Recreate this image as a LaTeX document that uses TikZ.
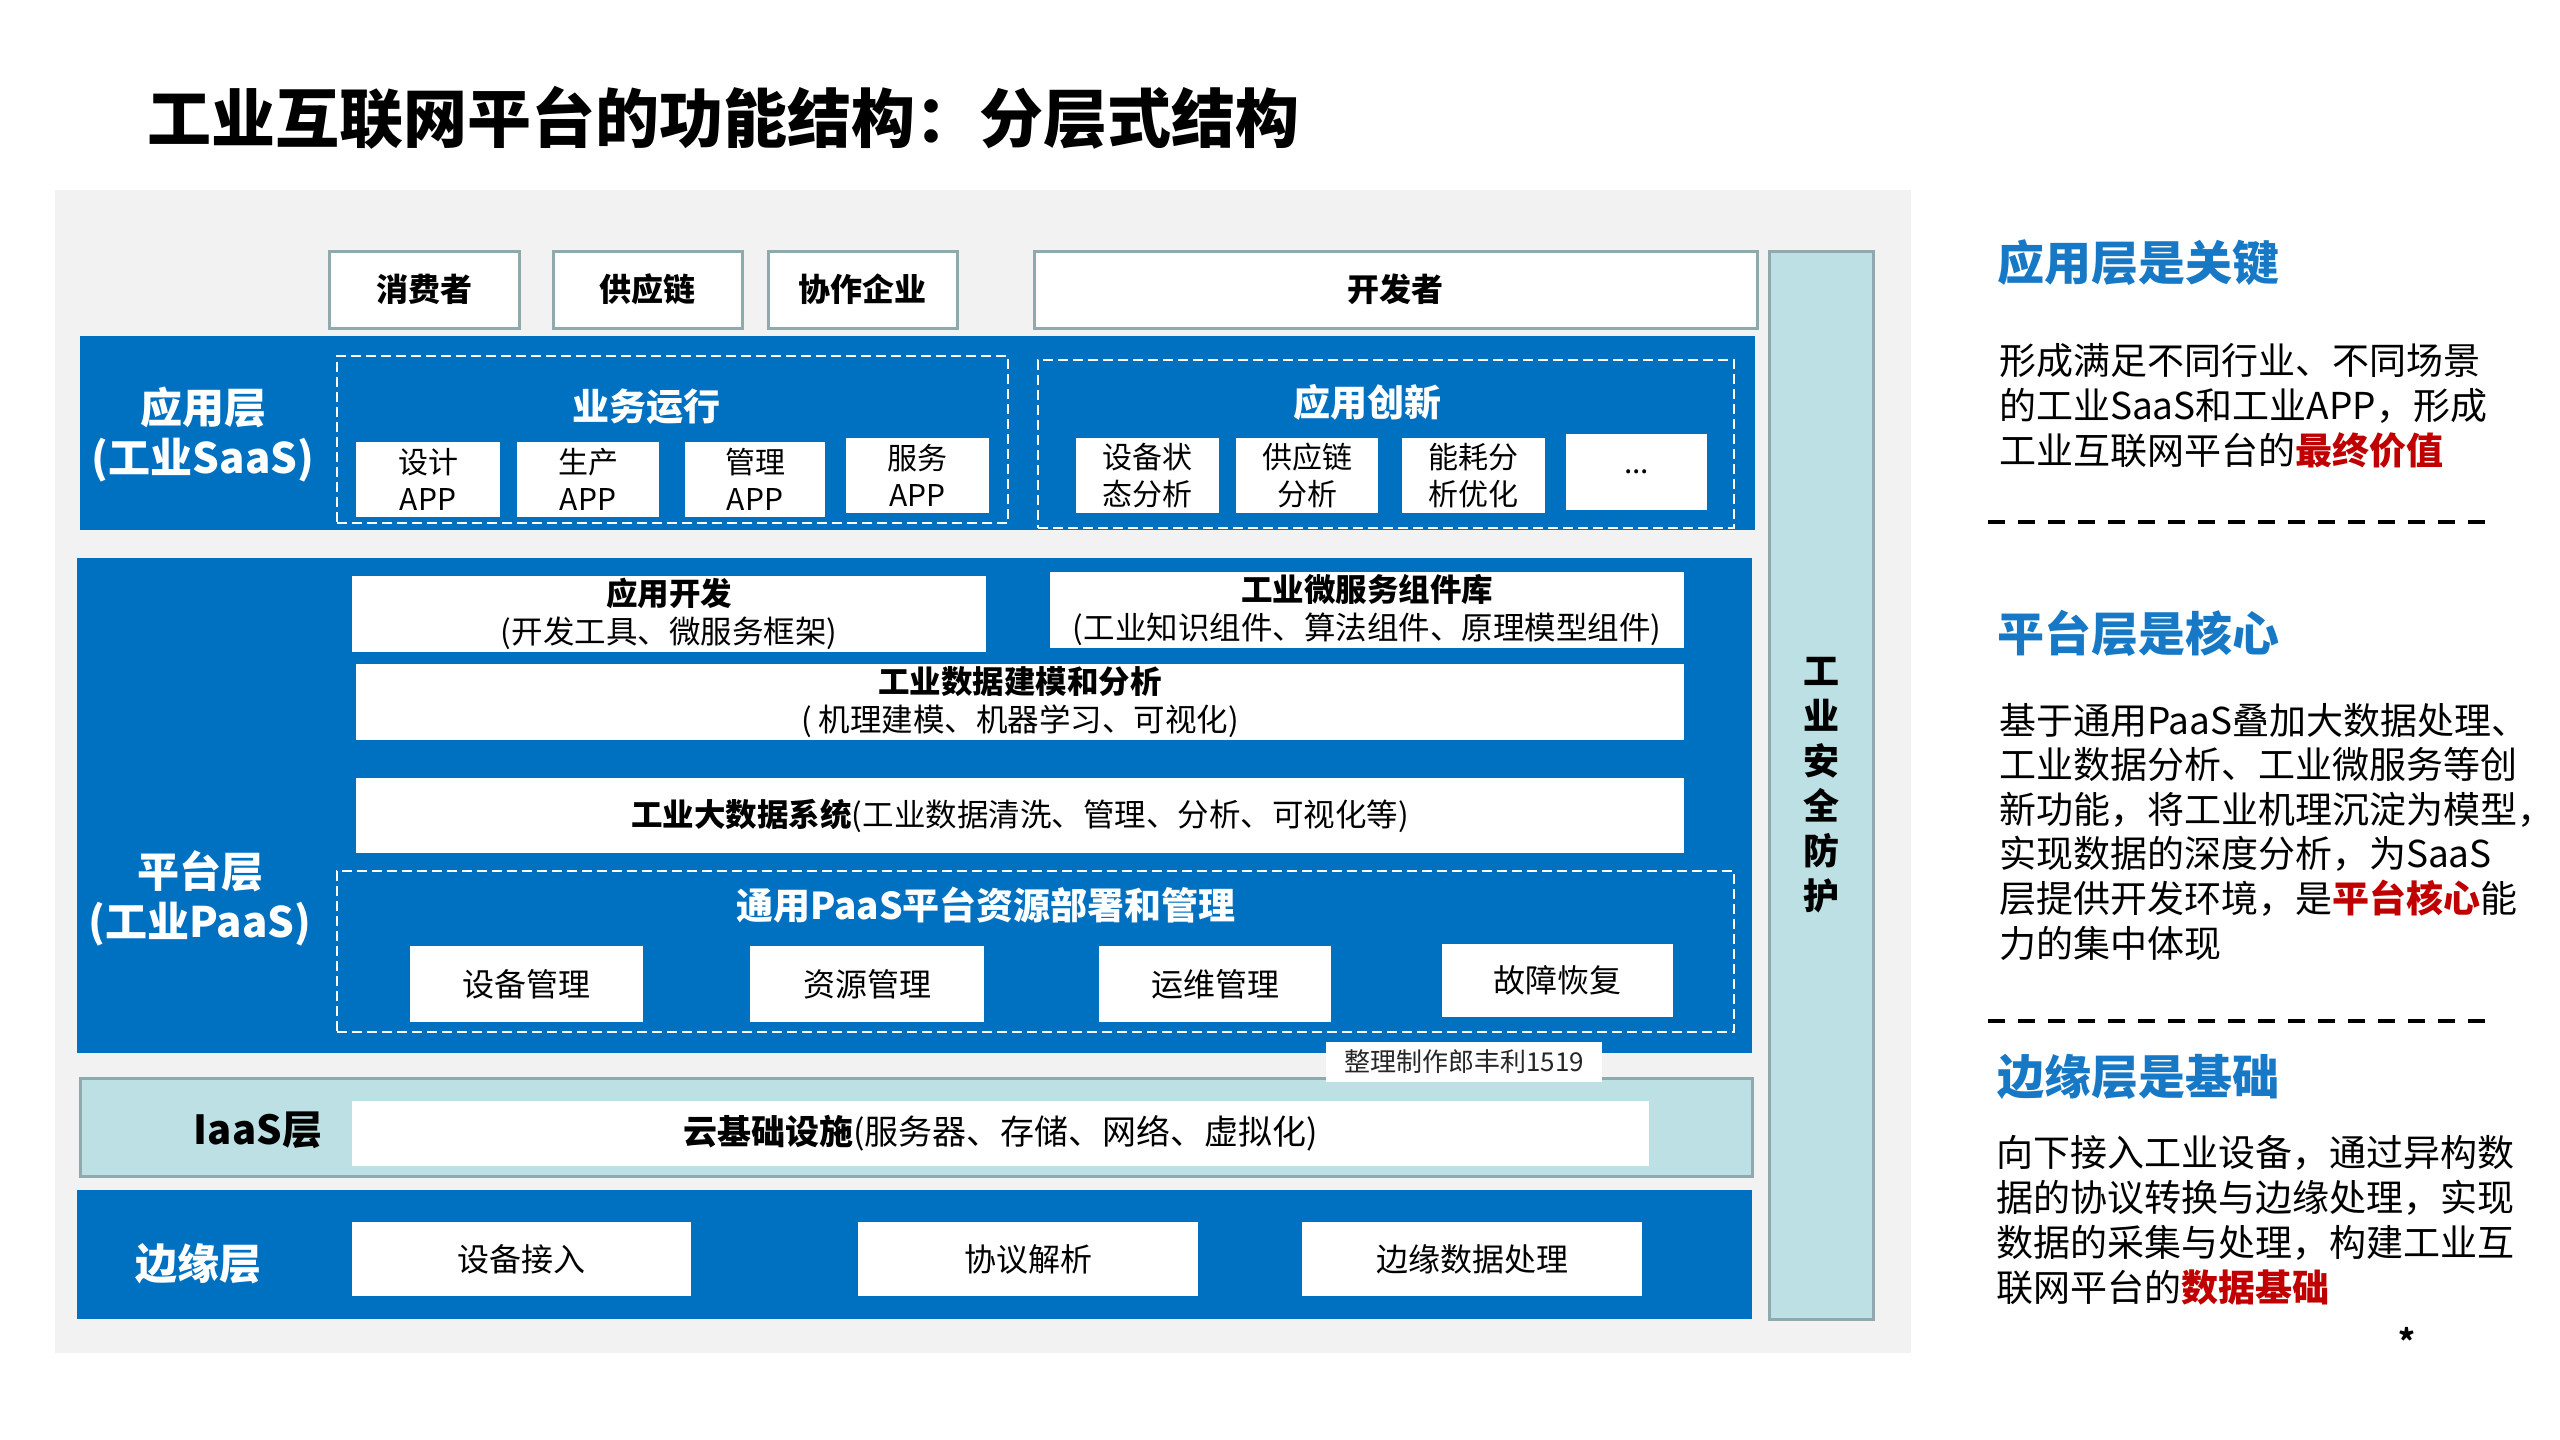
\documentclass[tikz,border=0pt]{standalone}
\usepackage{fontspec}
\setmainfont{Noto Sans CJK SC}
\definecolor{myblue}{HTML}{0070C0}
\definecolor{hblue}{HTML}{1779C6}
\definecolor{lteal}{HTML}{BCE0E3}
\definecolor{bgray}{HTML}{8FA9AD}
\definecolor{panelgray}{HTML}{F2F2F2}
\definecolor{myred}{HTML}{C00000}
\newcommand\fsz[2]{\fontsize{#1}{#2}\selectfont}
\begin{document}
\begin{tikzpicture}[x=1pt,y=-1pt,
  every node/.style={inner sep=0pt, outer sep=0pt},
  sz/.style 2 args={minimum width=#1pt, minimum height=#2pt},
  topbox/.style={draw=bgray, line width=3pt, fill=white, font=\fsz{32}{38}\bfseries},
  band/.style={fill=myblue},
  wbox/.style={fill=white, align=center, font=\fsz{30}{37}},
  mbox/.style={fill=white, align=center, font=\fsz{31.5}{38}},
  dbox/.style={draw=white, line width=2.5pt, dash pattern=on 10pt off 5pt},
  lbl/.style={text=white, font=\fsz{42}{50}\bfseries, align=center},
  ttl/.style={text=white, font=\fsz{37}{44}\bfseries},
  head/.style={text=hblue, font=\fsz{47}{52}\bfseries, anchor=west},
  para/.style={font=\fsz{37}{45}, align=left, anchor=west},
  sep/.style={line width=4pt, dash pattern=on 17pt off 13pt}
]
\useasboundingbox (0,0) rectangle (2560,1440);
\fill[white] (0,0) rectangle (2560,1440);

% title
\node[anchor=west, font=\fsz{64}{70}\bfseries] (title) at (147,118) {工业互联网平台的功能结构：分层式结构};

% gray panel
\node[fill=panelgray, sz={1856}{1163}] (panel) at (983,771.5) {};

% top boxes
\node[topbox, sz={190}{77}] (consumer) at (424,289.5) {消费者};
\node[topbox, sz={189}{77}] (supply) at (647.5,289.5) {供应链};
\node[topbox, sz={189}{77}] (collab) at (862.5,289.5) {协作企业};
\node[topbox, sz={723}{77}] (dev) at (1395.5,289.5) {开发者};

% security bar
\node[draw=bgray, line width=3pt, fill=lteal, sz={104}{1068}, align=center, font=\fsz{36}{45}\bfseries] (sec) at (1821,785) {工\\业\\安\\全\\防\\护};

% application layer
\node[band, sz={1675}{194}] (appband) at (917.5,433) {};
\node[lbl] (applbl) at (203,435) {应用层\\(工业SaaS)};
\node[dbox, sz={671}{167}] (biz) at (672.5,439.5) {};
\node[ttl] (biztitle) at (646,407) {业务运行};
\node[wbox, sz={144}{75}] (design) at (428,479.5) {设计\\APP};
\node[wbox, sz={142}{75}] (prod) at (588,479.5) {生产\\APP};
\node[wbox, sz={140}{75}] (mgmt) at (755,479.5) {管理\\APP};
\node[wbox, sz={143}{75}] (service) at (917.5,475.5) {服务\\APP};
\node[dbox, sz={696}{168}] (innov) at (1386,444) {};
\node[ttl] (innovtitle) at (1367,402) {应用创新};
\node[wbox, sz={143}{75}] (status) at (1147.5,475.5) {设备状\\态分析};
\node[wbox, sz={142}{75}] (supplya) at (1307,475.5) {供应链\\分析};
\node[wbox, sz={143}{75}] (energy) at (1473.5,475.5) {能耗分\\析优化};
\node[wbox, sz={141}{76}] (more) at (1636.5,472) {...};

% platform layer
\node[band, sz={1675}{495}] (platband) at (914.5,805.5) {};
\node[lbl] (platlbl) at (200,898) {平台层\\(工业PaaS)};
\node[mbox, sz={634}{76}] (appdev) at (669,614) {\textbf{应用开发}\\(开发工具、微服务框架)};
\node[mbox, sz={634}{76}] (micro) at (1367,610) {\textbf{工业微服务组件库}\\(工业知识组件、算法组件、原理模型组件)};
\node[mbox, sz={1328}{76}] (model) at (1020,702) {\textbf{工业数据建模和分析}\\( 机理建模、机器学习、可视化)};
\node[mbox, sz={1328}{75}] (bigdata) at (1020,815.5) {\textbf{工业大数据系统}(工业数据清洗、管理、分析、可视化等)};
\node[dbox, sz={1397}{161}] (paas) at (1035.5,951.5) {};
\node[ttl] (paastitle) at (986,905) {通用PaaS平台资源部署和管理};
\node[wbox, font=\fsz{32}{38}, sz={233}{76}] (devmgmt) at (526.5,984) {设备管理};
\node[wbox, font=\fsz{32}{38}, sz={234}{76}] (resmgmt) at (867,984) {资源管理};
\node[wbox, font=\fsz{32}{38}, sz={232}{76}] (opsmgmt) at (1215,984) {运维管理};
\node[wbox, font=\fsz{32}{38}, sz={231}{73}] (fault) at (1557.5,980.5) {故障恢复};

% IaaS layer
\node[draw=bgray, line width=3pt, fill=lteal, sz={1672}{98}] (iaasband) at (916,1127) {};
\node[font=\fsz{40}{44}\bfseries] (iaaslbl) at (258,1130) {IaaS层};
\node[wbox, font=\fsz{34}{42}, sz={1297}{65}] (cloud) at (1000.5,1133.5) {\textbf{云基础设施}(服务器、存储、网络、虚拟化)};
\node[fill=white, sz={276}{40}, font=\fsz{26}{30}, text=black!85] (wm) at (1464,1062) {整理制作郎丰利1519};

% edge layer
\node[band, sz={1675}{129}] (edgeband) at (914.5,1254.5) {};
\node[lbl] (edgelbl) at (198,1264) {边缘层};
\node[wbox, font=\fsz{32}{38}, sz={339}{74}] (access) at (521.5,1259) {设备接入};
\node[wbox, font=\fsz{32}{38}, sz={340}{74}] (protocol) at (1028,1259) {协议解析};
\node[wbox, font=\fsz{32}{38}, sz={340}{74}] (edgeproc) at (1472,1259) {边缘数据处理};

% right text
\node[head] (h1) at (1997,263) {应用层是关键};
\node[para] (p1) at (1999,406) {形成满足不同行业、不同场景\\的工业SaaS和工业APP，形成\\工业互联网平台的\textcolor{myred}{\textbf{最终价值}}};
\draw[sep] (1988,522) -- (2493,522);
\node[head] (h2) at (1997,633) {平台层是核心};
\node[para, font=\fsz{37}{44.6}] (p2) at (1999,831.5) {基于通用PaaS叠加大数据处理、\\工业数据分析、工业微服务等创\\新功能，将工业机理沉淀为模型，\\实现数据的深度分析，为SaaS\\层提供开发环境，是\textcolor{myred}{\textbf{平台核心}}能\\力的集中体现};
\draw[sep] (1988,1021) -- (2493,1021);
\node[head] (h3) at (1997,1077) {边缘层是基础};
\node[para] (p3) at (1996,1220.5) {向下接入工业设备，通过异构数\\据的协议转换与边缘处理，实现\\数据的采集与处理，构建工业互\\联网平台的\textcolor{myred}{\textbf{数据基础}}};
\node[font=\fsz{32}{36}\bfseries] (star) at (2407,1340) {*};
\end{tikzpicture}
\end{document}
